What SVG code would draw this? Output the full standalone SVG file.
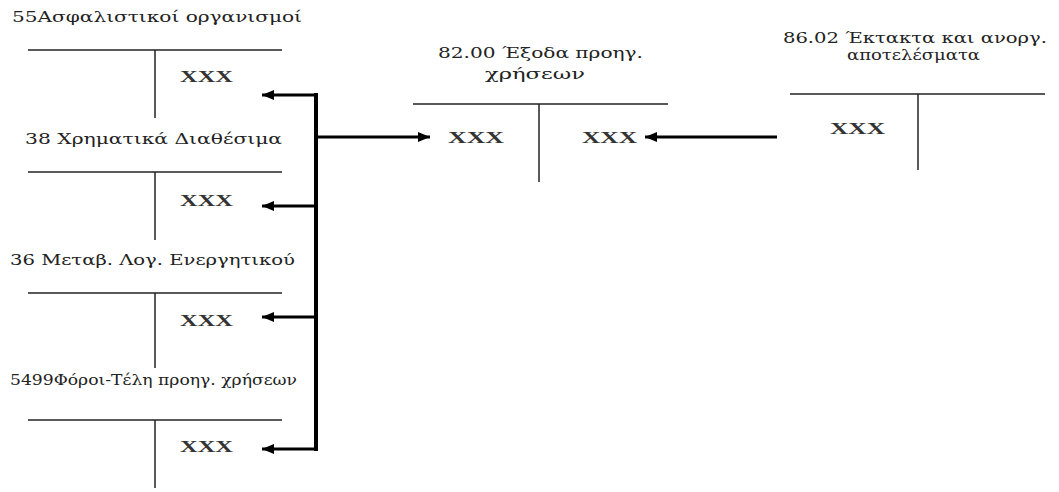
<svg xmlns="http://www.w3.org/2000/svg" width="1059" height="492" viewBox="0 0 1059 492">
<style>
.t{font-family:"DejaVu Serif","Liberation Serif",serif;font-size:15px;fill:#222}
.x{font-family:"Liberation Serif","DejaVu Serif",serif;font-size:17px;font-weight:bold;fill:#333}
.ln{stroke:#222;stroke-width:1.5;fill:none}
.ar{stroke:#000;stroke-width:3;fill:none}
</style>
<defs>
<marker id="ah" markerUnits="userSpaceOnUse" markerWidth="14" markerHeight="12" refX="12" refY="5" orient="auto">
<path d="M0,0 L12,5 L0,10 Z" fill="#000"/>
</marker>
</defs>
<rect width="1059" height="492" fill="#fff"/>
<g id="acc55">
<text class="t" x="12" y="22" textLength="290" lengthAdjust="spacingAndGlyphs">55Ασφαλιστικοί οργανισμοί</text>
<line class="ln" x1="28" y1="50" x2="282" y2="50"/>
<line class="ln" x1="155" y1="50" x2="155" y2="118"/>
<text class="x" x="180" y="82" textLength="53" lengthAdjust="spacingAndGlyphs">XXX</text>
</g>
<g id="acc38">
<text class="t" x="25" y="144" textLength="257" lengthAdjust="spacingAndGlyphs">38 Χρηματικά Διαθέσιμα</text>
<line class="ln" x1="28" y1="172" x2="282" y2="172"/>
<line class="ln" x1="155" y1="172" x2="155" y2="240"/>
<text class="x" x="180" y="206" textLength="53" lengthAdjust="spacingAndGlyphs">XXX</text>
</g>
<g id="acc36">
<text class="t" x="10" y="265" textLength="285" lengthAdjust="spacingAndGlyphs">36 Μεταβ. Λογ. Ενεργητικού</text>
<line class="ln" x1="28" y1="293" x2="282" y2="293"/>
<line class="ln" x1="155" y1="293" x2="155" y2="368"/>
<text class="x" x="180" y="326" textLength="53" lengthAdjust="spacingAndGlyphs">XXX</text>
</g>
<g id="acc5499">
<text class="t" x="10" y="385" textLength="287" lengthAdjust="spacingAndGlyphs">5499Φόροι-Τέλη προηγ. χρήσεων</text>
<line class="ln" x1="28" y1="420" x2="282" y2="420"/>
<line class="ln" x1="155" y1="420" x2="155" y2="488"/>
<text class="x" x="180" y="452" textLength="53" lengthAdjust="spacingAndGlyphs">XXX</text>
</g>
<g id="acc8200">
<text class="t" x="438" y="58" textLength="205" lengthAdjust="spacingAndGlyphs">82.00 Έξοδα προηγ.</text>
<text class="t" x="485" y="79" textLength="100" lengthAdjust="spacingAndGlyphs">χρήσεων</text>
<line class="ln" x1="413" y1="104" x2="668" y2="104"/>
<line class="ln" x1="539" y1="104" x2="539" y2="182"/>
<text class="x" x="448" y="143" textLength="56" lengthAdjust="spacingAndGlyphs">XXX</text>
<text class="x" x="582" y="143" textLength="55" lengthAdjust="spacingAndGlyphs">XXX</text>
</g>
<g id="acc8602">
<text class="t" x="783" y="43" textLength="264" lengthAdjust="spacingAndGlyphs">86.02 Έκτακτα και ανοργ.</text>
<text class="t" x="847" y="60" textLength="133" lengthAdjust="spacingAndGlyphs">αποτελέσματα</text>
<line class="ln" x1="790" y1="94" x2="1045" y2="94"/>
<line class="ln" x1="918" y1="94" x2="918" y2="170"/>
<text class="x" x="830" y="134" textLength="55" lengthAdjust="spacingAndGlyphs">XXX</text>
</g>
<g id="connectors">
<line x1="316" y1="93" x2="316" y2="451" stroke="#000" stroke-width="4"/>
<line class="ar" x1="318" y1="95" x2="262" y2="95" marker-end="url(#ah)"/>
<line class="ar" x1="318" y1="206" x2="262" y2="206" marker-end="url(#ah)"/>
<line class="ar" x1="318" y1="317" x2="262" y2="317" marker-end="url(#ah)"/>
<line class="ar" x1="318" y1="449" x2="262" y2="449" marker-end="url(#ah)"/>
<line class="ar" x1="316" y1="137" x2="430" y2="137" marker-end="url(#ah)"/>
<line class="ar" x1="777" y1="137" x2="645" y2="137" marker-end="url(#ah)"/>
</g>
</svg>
